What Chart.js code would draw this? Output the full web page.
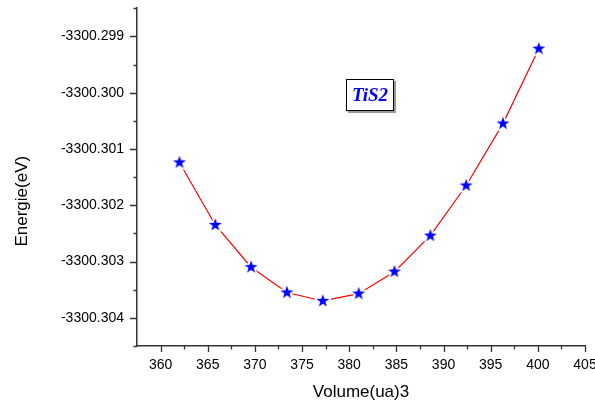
<!DOCTYPE html>
<html>
<head>
<meta charset="utf-8">
<script src="https://cdn.jsdelivr.net/npm/chart.js@4/dist/chart.umd.min.js"></script>
<style>
  html, body { margin: 0; padding: 0; background: #fff; }
</style>
</head>
<body>
<canvas id="chart" width="595" height="407"></canvas>
<script>
// E(V) curve for TiS2
const volumes  = [362.0, 365.8, 369.6, 373.4, 377.2, 381.0, 384.8, 388.6, 392.4, 396.3, 400.1];
const energies = [-3300.30124, -3300.30235, -3300.30310, -3300.30355, -3300.30370, -3300.30357,
                  -3300.30318, -3300.30254, -3300.30165, -3300.30055, -3300.29922];

const xTicks = [360, 365, 370, 375, 380, 385, 390, 395, 400, 405];
const xMinor = [362.5, 367.5, 372.5, 377.5, 382.5, 387.5, 392.5, 397.5, 402.5];
const yTicks = [-3300.299, -3300.300, -3300.301, -3300.302, -3300.303, -3300.304];
const yMinor = [-3300.2985, -3300.2995, -3300.3005, -3300.3015, -3300.3025, -3300.3035, -3300.3045];

const AXIS_COLOR = '#333';

// filled star marker, white halo keeps the line off the star
function makeStar(size, color) {
  const c = document.createElement('canvas');
  c.width = size; c.height = size;
  const g = c.getContext('2d');
  const cx = size / 2, cy = size / 2, ro = size / 2 - 2.2, ri = ro * 0.4;
  g.beginPath();
  for (let i = 0; i < 10; i++) {
    const r = i % 2 === 0 ? ro : ri;
    const a = -Math.PI / 2 + i * Math.PI / 5;
    g.lineTo(cx + r * Math.cos(a), cy + r * Math.sin(a));
  }
  g.closePath();
  g.lineWidth = 3.5;
  g.strokeStyle = '#fff';
  g.lineJoin = 'round';
  g.stroke();
  g.fillStyle = color;
  g.fill();
  return c;
}

const tickMarks = {
  id: 'tickMarks',
  afterDraw(chart) {
    const { ctx, chartArea, scales } = chart;
    ctx.save();
    ctx.strokeStyle = AXIS_COLOR;
    ctx.lineWidth = 1.3;
    ctx.beginPath();
    xTicks.concat(xMinor).forEach(v => {
      const px = Math.round(scales.x.getPixelForValue(v)) + 0.5;
      const len = xTicks.includes(v) ? 6 : 3.5;
      ctx.moveTo(px, chartArea.bottom);
      ctx.lineTo(px, chartArea.bottom + len);
    });
    yTicks.concat(yMinor).forEach(v => {
      const py = Math.round(scales.y.getPixelForValue(v)) + 0.5;
      const len = yTicks.includes(v) ? 7 : 3.5;
      ctx.moveTo(chartArea.left, py);
      ctx.lineTo(chartArea.left - len, py);
    });
    ctx.stroke();

    // axis titles
    ctx.fillStyle = '#000';
    ctx.font = '17px "Liberation Sans", Arial, sans-serif';
    ctx.textAlign = 'center';
    ctx.textBaseline = 'middle';
    ctx.fillText('Volume(ua)3', (chartArea.left + chartArea.right) / 2, chartArea.bottom + 46);
    ctx.translate(22, chartArea.top + 193);
    ctx.rotate(-Math.PI / 2);
    ctx.fillText('Energie(eV)', 0, 0);
    ctx.restore();

    // compound label box
    ctx.save();
    const bx = 346, by = 79, bw = 48, bh = 32;
    ctx.fillStyle = '#999';
    ctx.fillRect(bx + 2, by + 2, bw, bh);
    ctx.fillStyle = '#fff';
    ctx.fillRect(bx, by, bw, bh);
    ctx.strokeStyle = '#000';
    ctx.lineWidth = 1;
    ctx.strokeRect(bx + 0.5, by + 0.5, bw - 1, bh - 1);
    ctx.fillStyle = '#0000ff';
    ctx.font = 'italic bold 19px "Liberation Serif", "Times New Roman", serif';
    ctx.textAlign = 'center';
    ctx.textBaseline = 'middle';
    ctx.fillText('TiS2', bx + bw / 2, by + bh / 2 + 1);
    ctx.restore();
  }
};

function noPad(scale) {
  scale.paddingLeft = 0; scale.paddingRight = 0;
  scale.paddingTop = 0; scale.paddingBottom = 0;
}

new Chart(document.getElementById('chart'), {
  type: 'line',
  data: {
    datasets: [{
      data: volumes.map((v, i) => ({ x: v, y: energies[i] })),
      borderColor: '#ff0000',
      borderWidth: 1.2,
      tension: 0,
      fill: false,
      pointStyle: makeStar(18, '#0000ff'),
      pointRadius: 7,
      pointHoverRadius: 7,
    }],
  },
  options: {
    responsive: false,
    animation: false,
    events: [],
    layout: { padding: { top: 4, right: 10, left: 0, bottom: 0 } },
    plugins: { legend: { display: false }, tooltip: { enabled: false } },
    scales: {
      x: {
        type: 'linear',
        min: 357.5, max: 405,
        afterBuildTicks: s => { s.ticks = xTicks.map(v => ({ value: v })); },
        afterFit: s => { s.height = 61; noPad(s); },
        grid: { display: false, drawTicks: false },
        border: { display: true, color: AXIS_COLOR, width: 1.5 },
        ticks: {
          autoSkip: false, maxRotation: 0, minRotation: 0, padding: 11,
          color: '#000', font: { family: '"Liberation Sans", Arial, sans-serif', size: 14 },
          callback: v => String(v),
        },
      },
      y: {
        type: 'linear',
        min: -3300.3045, max: -3300.2985,
        afterBuildTicks: s => { s.ticks = yTicks.map(v => ({ value: v })); },
        afterFit: s => { s.width = 137; noPad(s); },
        grid: { display: false, drawTicks: false },
        border: { display: true, color: AXIS_COLOR, width: 1.5 },
        ticks: {
          autoSkip: false, padding: 13,
          color: '#000', font: { family: '"Liberation Sans", Arial, sans-serif', size: 14 },
          callback: v => v.toFixed(3),
        },
      },
    },
  },
  plugins: [tickMarks],
});
</script>
</body>
</html>
